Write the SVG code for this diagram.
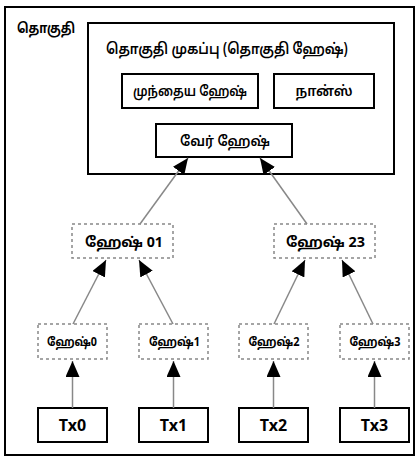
<svg xmlns="http://www.w3.org/2000/svg" width="420" height="458" viewBox="0 0 420 458">
<defs>
<marker id="ah" markerUnits="userSpaceOnUse" markerWidth="16" markerHeight="14" refX="16" refY="7" orient="auto">
<path d="M0,0 L16,7 L0,14 z" fill="#000"/>
</marker>
<style>
text{font-family:"Noto Sans Tamil","Noto Sans","Liberation Sans",sans-serif;fill:#000;text-anchor:middle}
.solid{fill:#fff;stroke:#000;stroke-width:2}
.dash{fill:#fff;stroke:#888;stroke-width:1.5;stroke-dasharray:3,3}
.edge{stroke:#888;stroke-width:1.5;fill:none;marker-end:url(#ah)}
.b{font-weight:bold}
.m{font-weight:600}
</style>
</defs>
<rect x="0" y="0" width="420" height="458" fill="#fff"/>
<g id="block">
<rect x="5" y="7" width="409" height="448" fill="#fff" stroke="#000" stroke-width="2"/>
<text x="17" y="33" class="b" style="text-anchor:start;font-size:14px" textLength="58" lengthAdjust="spacingAndGlyphs">தொகுதி</text>
</g>
<g id="header">
<rect class="solid" x="88" y="23" width="306" height="151"/>
<text x="227" y="54" class="m" style="font-size:15px" textLength="242" lengthAdjust="spacingAndGlyphs">தொகுதி முகப்பு (தொகுதி ஹேஷ்)</text>
</g>
<g id="prevhash">
<rect class="solid" x="122" y="74" width="136" height="34"/>
<text x="190" y="96" class="m" style="font-size:14px" textLength="114" lengthAdjust="spacingAndGlyphs">முந்தைய ஹேஷ்</text>
</g>
<g id="nonce">
<rect class="solid" x="274" y="74" width="100" height="34"/>
<text x="324" y="96" class="m" style="font-size:14px" textLength="57" lengthAdjust="spacingAndGlyphs">நான்ஸ்</text>
</g>
<g id="roothash">
<rect class="solid" x="156" y="124" width="136" height="33"/>
<text x="225" y="146" class="m" style="font-size:14px" textLength="90" lengthAdjust="spacingAndGlyphs">வேர் ஹேஷ்</text>
</g>
<g id="hash01">
<rect class="dash" x="72" y="224" width="101" height="34"/>
<text x="124" y="247" class="b" style="font-size:14px" textLength="78" lengthAdjust="spacingAndGlyphs">ஹேஷ் 01</text>
</g>
<g id="hash23">
<rect class="dash" x="274" y="224" width="101" height="34"/>
<text x="325.5" y="247" class="b" style="font-size:14px" textLength="79" lengthAdjust="spacingAndGlyphs">ஹேஷ் 23</text>
</g>
<g id="hash0">
<rect class="dash" x="38" y="324" width="69" height="35"/>
<text x="72" y="346" class="b" style="font-size:12px" textLength="50" lengthAdjust="spacingAndGlyphs">ஹேஷ்0</text>
</g>
<g id="hash1">
<rect class="dash" x="139" y="324" width="69" height="35"/>
<text x="174.5" y="346" class="b" style="font-size:12px" textLength="51" lengthAdjust="spacingAndGlyphs">ஹேஷ்1</text>
</g>
<g id="hash2">
<rect class="dash" x="239" y="324" width="69" height="35"/>
<text x="274" y="346" class="b" style="font-size:12px" textLength="51" lengthAdjust="spacingAndGlyphs">ஹேஷ்2</text>
</g>
<g id="hash3">
<rect class="dash" x="340" y="324" width="69" height="35"/>
<text x="375" y="346" class="b" style="font-size:12px" textLength="51" lengthAdjust="spacingAndGlyphs">ஹேஷ்3</text>
</g>
<g id="tx0">
<rect class="solid" x="38" y="408" width="69" height="34"/>
<text x="72.5" y="431" class="b" style="font-size:16px">Tx0</text>
</g>
<g id="tx1">
<rect class="solid" x="139" y="408" width="69" height="34"/>
<text x="173.5" y="431" class="b" style="font-size:16px">Tx1</text>
</g>
<g id="tx2">
<rect class="solid" x="239" y="408" width="69" height="34"/>
<text x="273.5" y="431" class="b" style="font-size:16px">Tx2</text>
</g>
<g id="tx3">
<rect class="solid" x="340" y="408" width="69" height="34"/>
<text x="374.5" y="431" class="b" style="font-size:16px">Tx3</text>
</g>
<g id="connectors">
<line class="edge" x1="140" y1="224" x2="188" y2="158"/>
<line class="edge" x1="307" y1="224" x2="260" y2="158"/>
<line class="edge" x1="73" y1="324" x2="106" y2="260"/>
<line class="edge" x1="173" y1="324" x2="139" y2="260"/>
<line class="edge" x1="274" y1="324" x2="305" y2="260"/>
<line class="edge" x1="373" y1="324" x2="342" y2="260"/>
<line class="edge" x1="72.5" y1="408" x2="72.5" y2="361"/>
<line class="edge" x1="173.5" y1="408" x2="173.5" y2="361"/>
<line class="edge" x1="273.5" y1="408" x2="273.5" y2="361"/>
<line class="edge" x1="374.5" y1="408" x2="374.5" y2="361"/>
</g>
</svg>
